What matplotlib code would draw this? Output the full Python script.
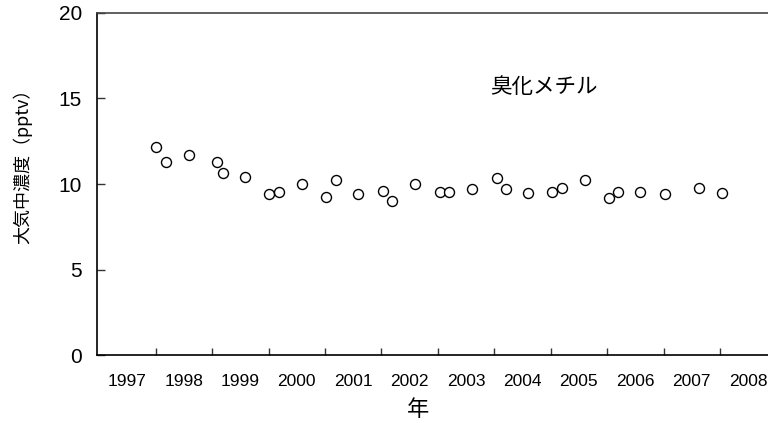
import matplotlib
matplotlib.use("Agg")
import matplotlib.pyplot as plt
from matplotlib.ticker import FixedLocator, NullFormatter, FixedFormatter

# ---- data ----
years_x = [1998.00, 1998.18, 1998.59, 1999.09, 1999.20, 1999.58,
           2000.01, 2000.18, 2000.60, 2001.02, 2001.19, 2001.58,
           2002.03, 2002.18, 2002.60, 2003.03, 2003.20, 2003.61,
           2004.04, 2004.21, 2004.60, 2005.02, 2005.20, 2005.61,
           2006.04, 2006.20, 2006.59, 2007.02, 2007.62, 2008.04]
conc = [12.15, 11.27, 11.71, 11.27, 10.66, 10.43,
        9.42, 9.55, 10.02, 9.26, 10.23, 9.42,
        9.57, 8.99, 10.02, 9.55, 9.55, 9.69,
        10.35, 9.69, 9.47, 9.55, 9.77, 10.22,
        9.16, 9.55, 9.55, 9.42, 9.77, 9.47]
year_labels = ["1997", "1998", "1999", "2000", "2001", "2002",
               "2003", "2004", "2005", "2006", "2007", "2008"]
y_ticks = [0, 5, 10, 15, 20]

W, H = 768, 423
fig = plt.figure(figsize=(W / 100, H / 100), dpi=100)
left_px, right_px, top_px, bottom_px = 97.3, 776.4, 13, 355
ax = fig.add_axes([left_px / W, 1 - bottom_px / H,
                   (right_px - left_px) / W, (bottom_px - top_px) / H])

ax.plot(years_x, conc, linestyle="none", marker="o", markersize=7.2,
        markerfacecolor="white", markeredgecolor="black", markeredgewidth=1.0,
        clip_on=False)

ax.set_xlim(1996.965, 2009)
ax.set_ylim(0, 20)

# x ticks: major marks at year boundaries, labels centred in each year band
first = int(year_labels[0])
ax.xaxis.set_major_locator(FixedLocator([first + i for i in range(1, len(year_labels))]))
ax.xaxis.set_major_formatter(NullFormatter())
ax.xaxis.set_minor_locator(FixedLocator([first + i + 0.5 for i in range(len(year_labels))]))
ax.xaxis.set_minor_formatter(FixedFormatter(year_labels))
ax.tick_params(axis="x", which="major", direction="in", length=5, width=1, color="#333333")
ax.tick_params(axis="x", which="minor", length=0, pad=14, labelsize=12.5)

ax.set_yticks(y_ticks)
ax.tick_params(axis="y", which="major", direction="in", length=6, width=1, pad=11,
               labelsize=15, color="#333333")

for lab in ax.get_xticklabels(minor=True) + ax.get_yticklabels():
    lab.set_fontfamily(["Liberation Sans", "DejaVu Sans"])

ax.spines["right"].set_visible(False)
ax.spines["left"].set_color("black")
ax.spines["bottom"].set_color("black")
ax.spines["top"].set_color("#444444")
for s in ax.spines.values():
    s.set_linewidth(1.2)

cjk = ["Noto Sans CJK JP", "DejaVu Sans"]
fig.text(22 / W, 1 - 162 / H, "大気中濃度（pptv）", rotation=90, ha="center", va="center",
         fontsize=13, family=cjk)
fig.text(418 / W, 1 - 409 / H, "年", ha="center", va="center", fontsize=16, family=cjk)
fig.text(544 / W, 1 - 87 / H, "臭化メチル", ha="center", va="center", fontsize=15.5, family=cjk)

fig.savefig("out.png", dpi=100)
